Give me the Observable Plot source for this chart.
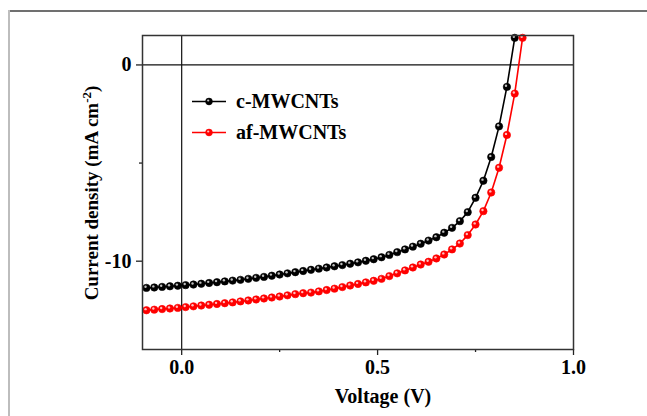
<!DOCTYPE html>
<html>
<head>
<meta charset="utf-8">
<script src="https://cdn.jsdelivr.net/npm/d3@7"></script>
<script src="https://cdn.jsdelivr.net/npm/@observablehq/plot@0.6"></script>
<style>
  html, body { margin: 0; padding: 0; background: #fff; }
  #wrap { position: relative; width: 647px; height: 416px; overflow: hidden; font-family: "Liberation Serif", "Times New Roman", serif; font-weight: bold; color: #000; }
  #wrap svg.plot { position: absolute; left: 0; top: 0; }
  .borderTop { position: absolute; left: 8px; top: 10px; width: 700px; height: 0; border-top: 2px solid #707070; }
  .borderLeft { position: absolute; left: 8px; top: 10px; width: 0; height: 500px; border-left: 2px solid #bdbdbd; }
  .ylab { position: absolute; left: 92px; top: 193px; transform: translate(-50%, -50%) rotate(-90deg); white-space: nowrap; font-size: 19px; }
  .ylab sup { font-size: 13px; vertical-align: 7px; line-height: 0; }
  .legend { position: absolute; left: 190px; top: 89px; font-size: 20px; }
  .legend .row { position: absolute; left: 0; white-space: nowrap; height: 24px; line-height: 24px; }
  .legend svg { position: absolute; left: 0; top: 0; }
  .legend span { position: absolute; left: 46px; top: 0; }
</style>
</head>
<body>
<div id="wrap">
  <div class="borderTop"></div>
  <div class="borderLeft"></div>
</div>
<script>
// ---- data ----
const voltage = [-0.09,-0.07,-0.05,-0.03,-0.01,0.01,0.03,0.05,0.07,0.09,0.11,0.13,0.15,0.17,0.19,0.21,0.23,0.25,0.27,0.29,0.31,0.33,0.35,0.37,0.39,0.41,0.43,0.45,0.47,0.49,0.51,0.53,0.55,0.57,0.59,0.61,0.63,0.65,0.67,0.69,0.71,0.73,0.75,0.77,0.79,0.81,0.83,0.85,0.87];
const seriesNames = ["c-MWCNTs", "af-MWCNTs"];
const seriesColors = ["#000000", "#ff0000"];
const jCMWCNTs = [-11.36,-11.34,-11.31,-11.28,-11.25,-11.22,-11.19,-11.15,-11.11,-11.07,-11.03,-10.99,-10.95,-10.90,-10.85,-10.80,-10.74,-10.68,-10.62,-10.56,-10.50,-10.44,-10.38,-10.32,-10.26,-10.20,-10.13,-10.06,-9.98,-9.90,-9.80,-9.68,-9.54,-9.40,-9.26,-9.11,-8.95,-8.78,-8.55,-8.30,-7.96,-7.50,-6.77,-5.90,-4.69,-3.13,-1.12,1.38];
const jAfMWCNTs = [-12.50,-12.47,-12.44,-12.41,-12.38,-12.34,-12.30,-12.26,-12.22,-12.18,-12.14,-12.10,-12.05,-12.00,-11.95,-11.90,-11.85,-11.80,-11.74,-11.68,-11.63,-11.60,-11.54,-11.47,-11.40,-11.32,-11.24,-11.16,-11.08,-11.00,-10.90,-10.76,-10.62,-10.47,-10.32,-10.17,-10.03,-9.86,-9.66,-9.40,-9.10,-8.67,-8.13,-7.45,-6.50,-5.24,-3.57,-1.46,1.38];
const xTicks = [0, 0.5, 1.0];
const xTickLabels = ["0.0", "0.5", "1.0"];
const xMinorTicks = [0.25, 0.75];
const yTicks = [0, -10];
const yTickLabels = ["0", "-10"];
const yMinorTicks = [-5];
const xDomain = [-0.1, 1.0];
const yDomain = [-14.5, 1.5];
const xLabel = "Voltage (V)";

// ---- table ----
const rows = [];
jCMWCNTs.forEach((j, i) => rows.push({series: seriesNames[0], v: voltage[i], j}));
jAfMWCNTs.forEach((j, i) => rows.push({series: seriesNames[1], v: voltage[i], j}));

const fontFamily = '"Liberation Serif", "Times New Roman", serif';

const chart = Plot.plot({
  width: 647,
  height: 416,
  marginLeft: 142,
  marginRight: 74,
  marginTop: 35,
  marginBottom: 67,
  style: { fontFamily, fontWeight: "bold", fontSize: "20px", background: "transparent", color: "#000", overflow: "visible" },
  x: { domain: xDomain },
  y: { domain: yDomain },
  color: { domain: seriesNames, range: seriesColors },
  marks: [
    Plot.ruleY([0], { stroke: "#111", strokeWidth: 1.2 }),
    Plot.ruleX([0], { stroke: "#111", strokeWidth: 1.2 }),
    Plot.axisX(xTicks, { tickSize: 6, tickPadding: 4, tickFormat: (d, i) => xTickLabels[i], label: null, stroke: "#222", strokeWidth: 1.3, fontSize: 20 }),
    Plot.axisX(xMinorTicks, { tickSize: 3, tickFormat: () => "", label: null, stroke: "#222", strokeWidth: 1.3 }),
    Plot.axisY(yTicks, { tickSize: 6, tickPadding: 5, tickFormat: (d, i) => yTickLabels[i], label: null, stroke: "#222", strokeWidth: 1.3, fontSize: 20 }),
    Plot.axisY(yMinorTicks, { tickSize: 3, tickFormat: () => "", label: null, stroke: "#222", strokeWidth: 1.3 }),
    Plot.line(rows, { x: "v", y: "j", z: "series", stroke: "series", strokeWidth: 1.6 }),
    Plot.dot(rows, { x: "v", y: "j", fill: "series", stroke: "series", r: 3.7, strokeWidth: 0.6 }),
    Plot.dot(rows, { x: "v", y: "j", fill: "#ffffff", fillOpacity: 0.75, r: 1.2, dx: -0.9, dy: -1.1 }),
    Plot.frame({ stroke: "#333", strokeWidth: 1.5 }),
    Plot.text([xLabel], { frameAnchor: "bottom", dx: 25, dy: 47, lineAnchor: "middle", fontSize: 20, fontWeight: "bold", fill: "#000" })
  ]
});
chart.classList.add("plot");
const wrap = document.getElementById("wrap");
wrap.appendChild(chart);

// y-axis title with superscript
const ylab = document.createElement("div");
ylab.className = "ylab";
ylab.innerHTML = "Current density (mA cm<sup>-2</sup>)";
wrap.appendChild(ylab);

// legend
const legend = document.createElement("div");
legend.className = "legend";
seriesNames.forEach((name, i) => {
  const row = document.createElement("div");
  row.className = "row";
  row.style.top = (i * 31) + "px";
  const c = seriesColors[i];
  row.innerHTML = `<svg width="40" height="24"><line x1="2" x2="36" y1="12.5" y2="12.5" stroke="${c}" stroke-width="1.6"/><circle cx="19" cy="12.5" r="3.4" fill="${c}" stroke="${c}" stroke-width="0.6"/><circle cx="18.2" cy="11.5" r="1.1" fill="#fff" fill-opacity="0.75"/></svg><span>${name}</span>`;
  legend.appendChild(row);
});
wrap.appendChild(legend);
</script>
</body>
</html>
